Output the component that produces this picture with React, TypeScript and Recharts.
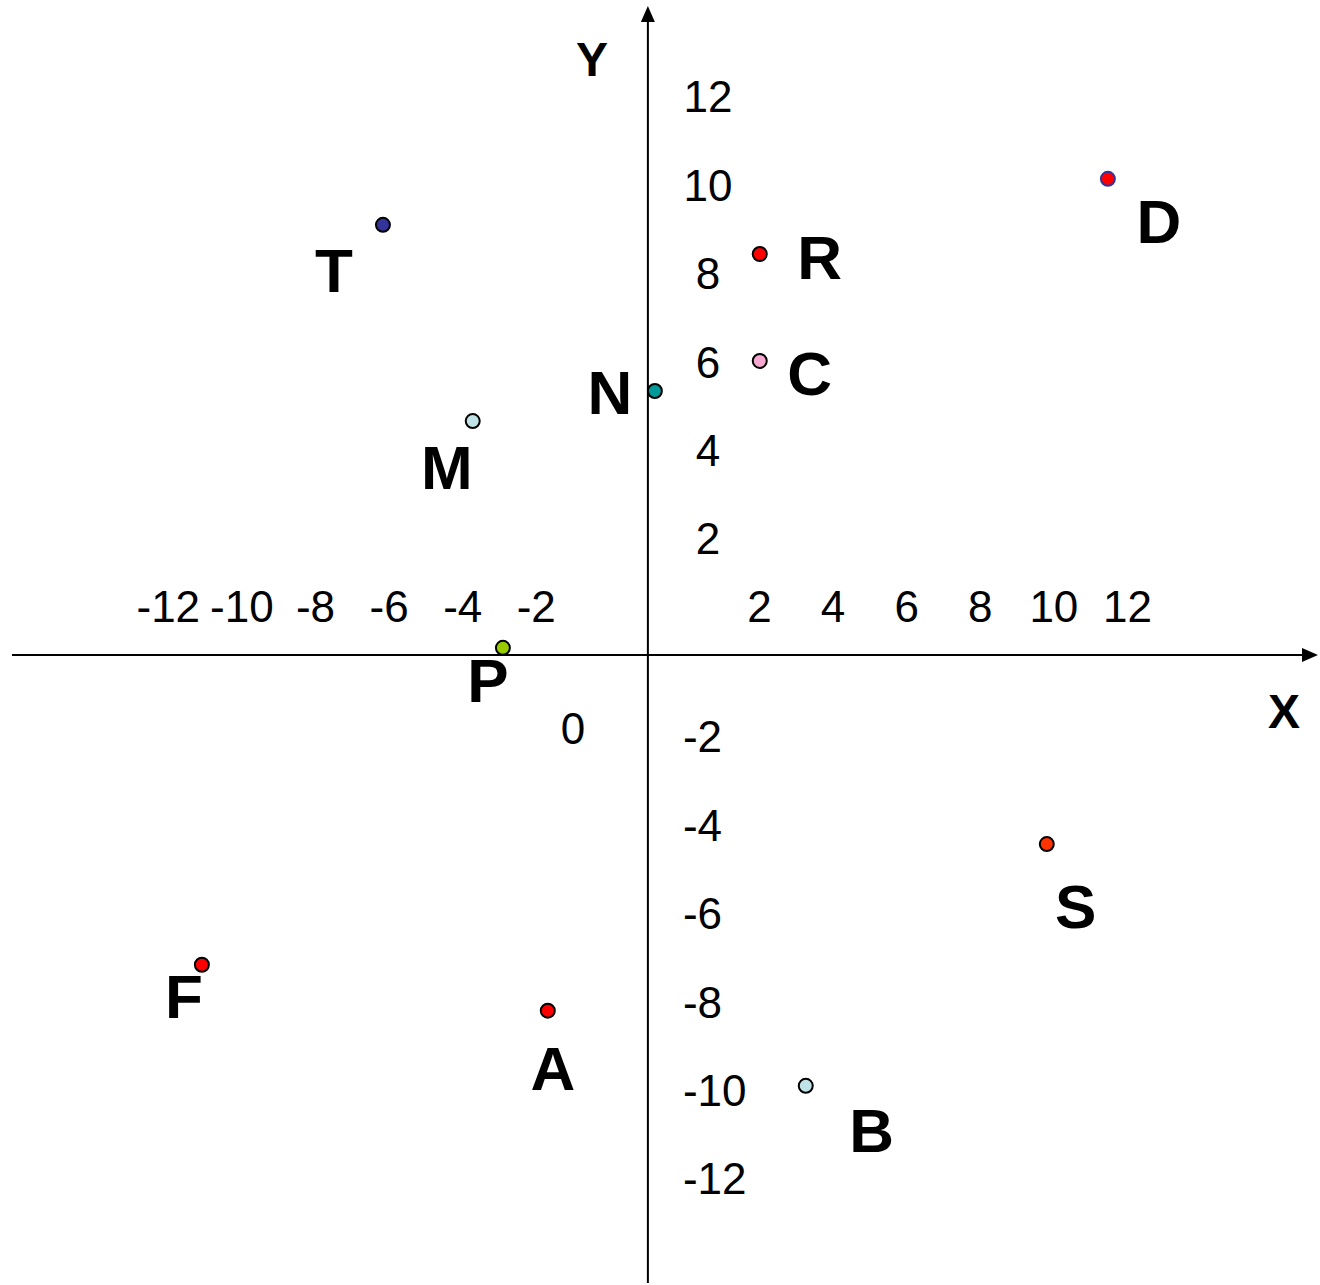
import { ScatterChart, Scatter, XAxis, YAxis, ReferenceLine } from "recharts";

// points (units of the plotted grid)
const pointNames = ["T", "D", "R", "C", "N", "M", "P", "S", "F", "A", "B"];
const pointX = [-7.2, 12.5, 3.04, 3.04, 0.19, -4.76, -3.94, 10.84, -12.12, -2.72, 4.29];
const pointY = [9.73, 10.77, 9.07, 6.65, 5.97, 5.29, 0.16, -4.28, -7.01, -8.05, -9.75];

const xTicks = [-12, -10, -8, -6, -4, -2, 2, 4, 6, 8, 10, 12];
const yTicks = [12, 10, 8, 6, 4, 2, -2, -4, -6, -8, -10, -12];

const W = 1320;
const H = 1285;
const X_DOMAIN: [number, number] = [-17.28, 18.21];
const Y_DOMAIN: [number, number] = [-14.21, 14.68];
const FONT = "'Liberation Sans', Arial, sans-serif";

const fill: Record<string, string> = {
  T: "#333399", D: "#ff0000", R: "#ff0000", C: "#f7a8d0", N: "#009999", M: "#bfe3e6",
  P: "#99cc00", S: "#ff3300", F: "#ff0000", A: "#ff0000", B: "#bfe3e6",
};
const stroke: Record<string, string> = { D: "#333399" };
// label centre relative to the dot
const labelOffset: Record<string, [number, number]> = {
  T: [-49, 45], D: [51, 42], R: [60, 3], C: [50, 12], N: [-45, 1], M: [-26, 46],
  P: [-15, 32], S: [29, 62], F: [-18, 31], A: [5, 57], B: [66, 44],
};

const VArrow = (p: any) => {
  const x = p.x1;
  const top = Math.min(p.y1, p.y2);
  const bottom = Math.max(p.y1, p.y2);
  return (
    <g>
      <line x1={x} y1={top + 12} x2={x} y2={bottom} stroke="#000" strokeWidth={2} />
      <polygon points={`${x},${top} ${x - 7},${top + 16} ${x + 7},${top + 16}`} fill="#000" />
      <text x={x - 56} y={top + 53 + 17} textAnchor="middle" fontFamily={FONT} fontWeight="bold" fontSize={48}>Y</text>
    </g>
  );
};

const HArrow = (p: any) => {
  const y = p.y1;
  const left = Math.min(p.x1, p.x2);
  const right = Math.max(p.x1, p.x2);
  return (
    <g>
      <line x1={left} y1={y} x2={right - 12} y2={y} stroke="#000" strokeWidth={2} />
      <polygon points={`${right},${y} ${right - 16},${y - 7} ${right - 16},${y + 7}`} fill="#000" />
      <text x={right - 34} y={y + 56 + 17} textAnchor="middle" fontFamily={FONT} fontWeight="bold" fontSize={48}>X</text>
    </g>
  );
};

const XTickLabel = (p: any) => {
  const v = p.payload.x;
  const dx = v > 0 ? 38 : -38;
  return (
    <text x={p.cx + dx} y={p.cy - 49 + 16} textAnchor="middle" fontFamily={FONT} fontSize={44} fill="#000">
      {p.payload.label}
    </text>
  );
};

const YTickLabel = (p: any) => {
  const v = p.payload.y;
  if (v > 0) {
    return (
      <text x={p.cx + 60} y={p.cy - 28 + 16} textAnchor="middle" fontFamily={FONT} fontSize={44} fill="#000">
        {p.payload.label}
      </text>
    );
  }
  return (
    <text x={p.cx + 35} y={p.cy - 7 + 16} textAnchor="start" fontFamily={FONT} fontSize={44} fill="#000">
      {p.payload.label}
    </text>
  );
};

const OriginLabel = (p: any) => (
  <text x={p.cx - 75} y={p.cy + 73 + 16} textAnchor="middle" fontFamily={FONT} fontSize={44} fill="#000">
    0
  </text>
);

const PointShape = (p: any) => {
  const name = p.payload.name;
  const [ox, oy] = labelOffset[name];
  return (
    <g>
      <circle cx={p.cx} cy={p.cy} r={7} fill={fill[name]} stroke={stroke[name] ?? "#000"} strokeWidth={2} />
      <text x={p.cx + ox} y={p.cy + oy + 22} textAnchor="middle" fontFamily={FONT} fontWeight="bold" fontSize={62} fill="#000">
        {name}
      </text>
    </g>
  );
};

export default function App() {
  const points = pointNames.map((name, i) => ({ name, x: pointX[i], y: pointY[i] }));
  const xTickData = xTicks.map((v) => ({ x: v, y: 0, label: String(v) }));
  const yTickData = yTicks.map((v) => ({ x: 0, y: v, label: String(v) }));

  return (
    <div style={{ position: "absolute", left: 0, top: 0, width: W, height: H, background: "#fff" }}>
      <ScatterChart width={W} height={H} margin={{ top: 6, right: 2, bottom: 2, left: 12 }}>
        <XAxis type="number" dataKey="x" domain={X_DOMAIN} allowDataOverflow hide />
        <YAxis type="number" dataKey="y" domain={Y_DOMAIN} allowDataOverflow hide />
        <ReferenceLine x={0} stroke="#000" strokeWidth={2} shape={VArrow} />
        <ReferenceLine y={0} stroke="#000" strokeWidth={2} shape={HArrow} />
        <Scatter data={xTickData} shape={XTickLabel} isAnimationActive={false} />
        <Scatter data={yTickData} shape={YTickLabel} isAnimationActive={false} />
        <Scatter data={[{ x: 0, y: 0 }]} shape={OriginLabel} isAnimationActive={false} />
        <Scatter data={points} shape={PointShape} isAnimationActive={false} />
      </ScatterChart>
    </div>
  );
}
